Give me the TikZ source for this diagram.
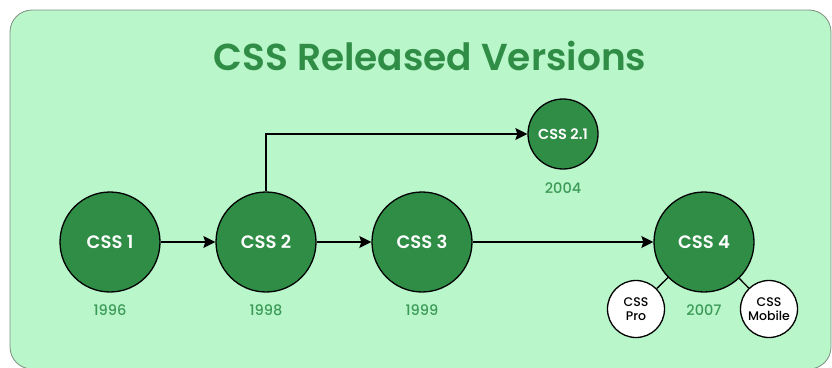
\documentclass[tikz,border=0pt]{standalone}
\usepackage{fontspec}
\setmainfont{Poppins}
\newfontfamily\semi{Poppins}[UprightFont=* SemiBold]
\newfontfamily\moyen{Poppins}[UprightFont=* Medium]
\usetikzlibrary{arrows.meta}
\definecolor{fond}{HTML}{B9F6CA}
\definecolor{vert}{HTML}{2F8D46}
\definecolor{annee}{HTML}{3A9A56}
\definecolor{bord}{HTML}{7D8F80}

\begin{document}
\begin{tikzpicture}[x=1pt,y=-1pt,
    version/.style={circle,draw=black,line width=1.3pt,fill=vert,text=white,inner sep=0pt,minimum size=100pt,font=\semi\fontsize{18}{18}\selectfont},
    petite/.style={version,minimum size=70pt,font=\semi\fontsize{14.5}{14.5}\selectfont},
    variante/.style={circle,draw=black,line width=1.3pt,fill=white,text=black,inner sep=0pt,minimum size=57pt,align=center,font=\moyen\fontsize{12.5}{13.5}\selectfont},
    annee/.style={text=annee,font=\moyen\fontsize{14.5}{14.5}\selectfont},
    fleche/.style={line width=1.4pt,-{Stealth[length=12pt,width=12pt,inset=2pt]}}]
  \useasboundingbox (0,0) rectangle (832,367);
  %CADRE
  \draw[bord,line width=0.8pt,fill=fond,rounded corners=22pt] (10,10) rectangle (831,369);
  \node[text=vert,font=\semi\fontsize{37.5}{37.5}\selectfont,anchor=base] (titre) at (430,70) {CSS Released Versions};
  %VERSIONS
  \node[version] (c1) at (110,242) {CSS 1};
  \node[version] (c2) at (266,242) {CSS 2};
  \node[version] (c3) at (422,242) {CSS 3};
  \node[version] (c4) at (704,242) {CSS 4};
  \node[petite] (c21) at (563,134) {CSS 2.1};
  \node[variante] (pro) at (636,309) {CSS\\Pro};
  \node[variante] (mobile) at (769,309) {CSS\\Mobile};
  %ANNEES
  \node[annee] (a1) at (110,310) {1996};
  \node[annee] (a2) at (266,310) {1998};
  \node[annee] (a3) at (422,310) {1999};
  \node[annee] (a21) at (563,188) {2004};
  \node[annee] (a4) at (704,310) {2007};
  %FLECHES
  \draw[fleche] (c1) -- (c2);
  \draw[fleche] (c2) -- (c3);
  \draw[fleche] (c3) -- (c4);
  \draw[fleche] (c2.north) |- (c21.west);
  \draw[line width=1.3pt] (c4) -- (pro);
  \draw[line width=1.3pt] (c4) -- (mobile);
\end{tikzpicture}
\end{document}
